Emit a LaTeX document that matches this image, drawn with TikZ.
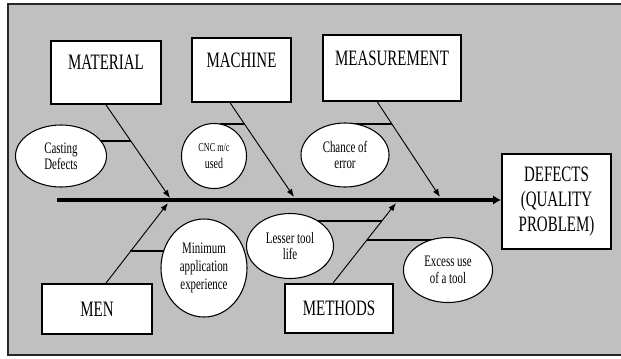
\documentclass[tikz,border=0pt]{standalone}
\usepackage{fontspec}
\setmainfont{Liberation Serif}[FakeStretch=0.68]
\usetikzlibrary{positioning,arrows.meta,calc,shapes.geometric,backgrounds}
\definecolor{fondo}{RGB}{192,192,192}

\begin{document}
\begin{tikzpicture}[
    x=0.75pt, y=-0.75pt,
    catbox/.style={draw, fill=white, line width=1.4pt, align=center,
                   font=\fontsize{16.5}{18.5}\selectfont},
    upper/.style={catbox, text height=11pt, text depth=15pt},
    cause/.style={ellipse, draw, fill=white, line width=0.8pt, inner sep=0pt,
                  align=center, font=\fontsize{12}{12.5}\selectfont},
    spine/.style={-{Latex[length=6pt,width=7pt]}, line width=3pt},
    bone/.style={-{Latex[length=6pt,width=4.5pt]}, line width=0.7pt},
    twig/.style={line width=1.5pt}
]

\useasboundingbox (0,0) rectangle (621,358);

% categorias
\node[upper, minimum width=82.5pt, minimum height=47.25pt]  (material)    at (106,72.5)  {MATERIAL};
\node[upper, minimum width=74.25pt, minimum height=48pt]    (machine)     at (241.5,70)  {MACHINE};
\node[upper, minimum width=103.5pt, minimum height=49.5pt]  (measurement) at (392,68)    {MEASUREMENT};
\node[catbox, minimum width=82.5pt, minimum height=37.5pt]  (men)         at (97,309)    {MEN};
\node[catbox, minimum width=81pt, minimum height=36.75pt]   (methods)     at (339,308.5) {METHODS};
\node[catbox, minimum width=81.75pt, minimum height=71.25pt] (defects)    at (556.5,201.5) {DEFECTS\\(QUALITY\\PROBLEM)};

% causas
\node[cause, minimum width=68.25pt, minimum height=46.5pt,
      font=\fontsize{12}{11}\selectfont]                    (cast)    at (61,156)  {Casting\\Defects};
\node[cause, minimum width=48.75pt, minimum height=48.75pt,
      font=\fontsize{11}{12.5}\selectfont]                  (cnc)     at (214,156) {{\fontsize{9}{9}\selectfont CNC m/c}\\used};
\node[cause, minimum width=66pt, minimum height=48pt]       (chance)  at (345,155) {Chance of\\error};
\node[cause, minimum width=64.5pt, minimum height=73.5pt,
      font=\fontsize{12}{13.5}\selectfont]                  (minimum) at (204,268) {Minimum\\application\\experience};
\node[cause, minimum width=65.25pt, minimum height=48.75pt] (lesser)  at (290,246) {Lesser tool\\life};
\node[cause, minimum width=66.75pt, minimum height=48.75pt] (excess)  at (448,270) {Excess use\\of a tool};

% espina central
\coordinate (cola) at (57,200);
\draw[spine] (cola) -- (cola -| defects.west);

% huesos hacia la espina
\coordinate (pMat) at (170,198);
\coordinate (pMac) at (294,197);
\coordinate (pMea) at (440,197);
\coordinate (pMen) at (168,203);
\coordinate (pMet) at (396,203);
\coordinate (sMac) at ([xshift=-8.5pt]machine.south);
\coordinate (sMea) at ([xshift=-11pt]measurement.south);
\coordinate (sMen) at ([xshift=6.75pt]men.north);
\coordinate (sMet) at ([xshift=-4.5pt]methods.north);
\draw[bone] (material.south) -- (pMat);
\draw[bone] (sMac) -- (pMac);
\draw[bone] (sMea) -- (pMea);
\draw[bone] (sMen) -- (pMen);
\draw[bone] (sMet) -- (pMet);

% ramas horizontales, por debajo de las elipses
\coordinate (tCast)   at ($(material.south)!0.383!(pMat)$);
\coordinate (tCnc)    at ($(sMac)!0.223!(pMac)$);
\coordinate (tChance) at ($(sMea)!0.232!(pMea)$);
\coordinate (tMin)    at ($(sMen)!0.395!(pMen)$);
\coordinate (tLesser) at ($(sMet)!0.778!(pMet)$);
\coordinate (tExcess) at ($(sMet)!0.543!(pMet)$);

\begin{scope}[on background layer]
  \fill[fondo] (8,4) rectangle (621,355);
  \draw[line width=1.5pt, black!85] (621,4) -| (8,355) -- (621,355);
  \draw[twig] (tCast)   -- (tCast -| cast.center);
  \draw[twig] (tCnc)    -- (tCnc -| cnc.80);
  \draw[twig] (tChance) -- (tChance -| chance.center);
  \draw[twig] (tMin)    -- (tMin -| minimum.center);
  \draw[twig] (tLesser) -- (tLesser -| lesser.center);
  \draw[twig] (tExcess) -- (tExcess -| excess.center);
\end{scope}

\end{tikzpicture}
\end{document}
